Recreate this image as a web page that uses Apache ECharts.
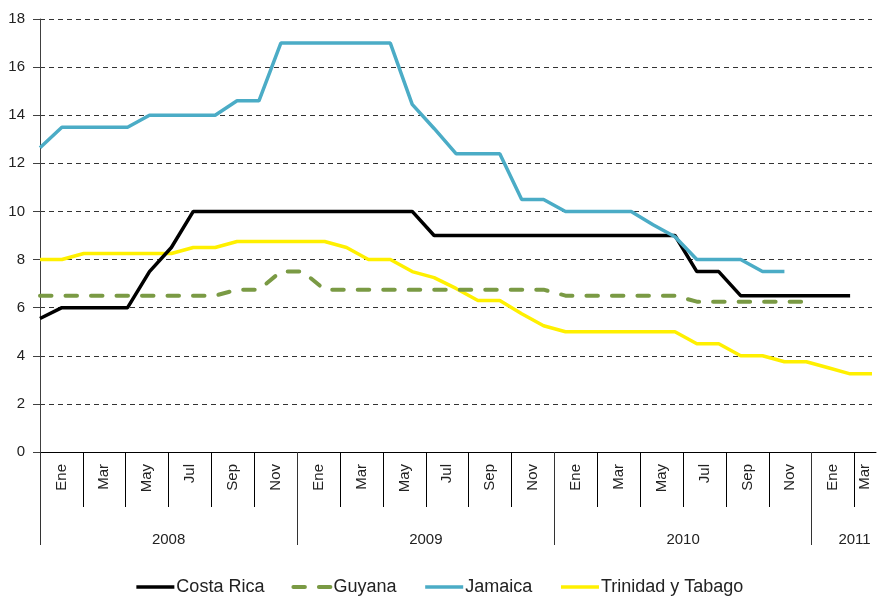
<!DOCTYPE html>
<html>
<head>
<meta charset="utf-8">
<script src="https://cdn.jsdelivr.net/npm/echarts@6/dist/echarts.min.js"></script>
<style>
html, body { margin: 0; padding: 0; background: #fff; }
#chart { width: 878px; height: 599px; }
</style>
</head>
<body>
<div id="chart"></div>
<script>
// tick labels
const monthTickLabels = ['Ene', 'Mar', 'May', 'Jul', 'Sep', 'Nov']
const yearLabels = ['2008', '2009', '2010', '2011']
const monthNames = ['Ene', 'Feb', 'Mar', 'Abr', 'May', 'Jun', 'Jul', 'Ago', 'Sep', 'Oct', 'Nov', 'Dic']

// monthly values, Ene 2008 .. Mar 2011 (39 months)
const costaRica = [5.55, 6, 6, 6, 6, 7.5, 8.5, 10, 10, 10, 10, 10, 10, 10, 10, 10, 10, 10,
    9, 9, 9, 9, 9, 9, 9, 9, 9, 9, 9, 9, 7.5, 7.5, 6.5, 6.5, 6.5, 6.5, 6.5, 6.5, null]
const guyana = [6.5, 6.5, 6.5, 6.5, 6.5, 6.5, 6.5, 6.5, 6.5, 6.75, 6.75, 7.5, 7.5,
    6.75, 6.75, 6.75, 6.75, 6.75, 6.75, 6.75, 6.75, 6.75, 6.75, 6.75,
    6.5, 6.5, 6.5, 6.5, 6.5, 6.5, 6.25, 6.25, 6.25, 6.25, 6.25, 6.25, null, null, null]
const jamaica = [12.65, 13.5, 13.5, 13.5, 13.5, 14, 14, 14, 14, 14.6, 14.6, 17, 17, 17, 17, 17, 17,
    14.45, 13.45, 12.4, 12.4, 12.4, 10.5, 10.5, 10, 10, 10, 10, 9.45, 8.95, 8, 8, 8, 7.5, 7.5,
    null, null, null, null]
const trinidad = [8, 8, 8.25, 8.25, 8.25, 8.25, 8.25, 8.5, 8.5, 8.75, 8.75, 8.75, 8.75, 8.75,
    8.5, 8, 8, 7.5, 7.25, 6.8, 6.3, 6.3, 5.75, 5.25, 5, 5, 5, 5, 5, 5,
    4.5, 4.5, 4, 4, 3.75, 3.75, 3.5, 3.25, 3.25]

// categories of the data axis
const months = []
yearLabels.forEach(y => monthNames.forEach(m => months.push(m + ' ' + y)))
months.length = costaRica.length

// label axes work on half-month slots (0..78)
const slotCount = months.length * 2 + 1
const monthSlots = new Array(slotCount).fill('')
const yearSlots = new Array(slotCount).fill('')
yearLabels.forEach((y, yi) => {
    monthTickLabels.forEach((m, mi) => {
        const idx = yi * 12 + mi * 2
        if (idx < months.length) monthSlots[Math.min(idx * 2 + 2, slotCount - 2)] = m
    })
    yearSlots[Math.min(yi * 24 + 12, slotCount - 3)] = y
})

const chart = echarts.init(document.getElementById('chart'))
const gridBox = { left: 40, top: 19, height: 433 }
chart.setOption({
    animation: false,
    textStyle: { fontFamily: 'Liberation Sans, Arial, sans-serif' },
    grid: [
        Object.assign({ right: 6 }, gridBox),
        Object.assign({ right: 2 }, gridBox),
        Object.assign({ right: 2 }, gridBox)
    ],
    legend: {
        data: ['Costa Rica', 'Guyana', 'Jamaica', 'Trinidad y Tabago'],
        left: 'center',
        top: 573,
        itemWidth: 38,
        itemHeight: 14,
        itemGap: 27,
        itemStyle: { opacity: 0 },      // 只显示线条，不显示圆点
        lineStyle: { width: 'inherit' },
        textStyle: { fontSize: 18, color: '#222', padding: [0, 0, 0, -3] }
    },
    xAxis: [
        { gridIndex: 0, type: 'category', data: months, boundaryGap: false, show: false },
        {
            gridIndex: 1, type: 'category', data: monthSlots, boundaryGap: false,
            axisLine: { onZero: false, lineStyle: { color: '#000', width: 1 } },
            axisTick: { interval: (i) => i % 4 === 0 && i > 0 && i < slotCount - 1, length: 55, lineStyle: { color: '#000' } },
            axisLabel: { interval: (i, v) => v !== '', rotate: 90, margin: 12, fontSize: 15, color: '#222' }
        },
        {
            gridIndex: 2, type: 'category', data: yearSlots, boundaryGap: false,
            axisLine: { show: false, onZero: false },
            axisTick: { interval: (i) => i % 24 === 0, length: 93, lineStyle: { color: '#333' } },
            axisLabel: { interval: (i, v) => v !== '', margin: 80, fontSize: 15, color: '#222' }
        }
    ],
    yAxis: [
        {
            gridIndex: 0, type: 'value', min: 0, max: 18, interval: 2,
            axisLine: { show: true, lineStyle: { color: '#404040' } },
            axisTick: { show: true, length: 7, lineStyle: { color: '#404040' } },
            axisLabel: { margin: 15, fontSize: 15, color: '#222' },
            splitLine: { lineStyle: { type: [5, 4], color: '#333', width: 1 } }
        },
        { gridIndex: 1, type: 'value', show: false },
        { gridIndex: 2, type: 'value', show: false }
    ],
    series: [
        {
            name: 'Costa Rica', type: 'line', data: costaRica, symbol: 'none', z: 4,
            lineStyle: { color: '#000', width: 3.5 }, itemStyle: { color: '#000' }
        },
        {
            name: 'Guyana', type: 'line', data: guyana, symbol: 'none', z: 3,
            lineStyle: { color: '#7A9A44', width: 4, type: [11.5, 14], cap: 'round' }, itemStyle: { color: '#7A9A44' }
        },
        {
            name: 'Jamaica', type: 'line', data: jamaica, symbol: 'none', z: 5,
            lineStyle: { color: '#4BACC6', width: 3.5 }, itemStyle: { color: '#4BACC6' }
        },
        {
            name: 'Trinidad y Tabago', type: 'line', data: trinidad, symbol: 'none', z: 2,
            lineStyle: { color: '#FFF000', width: 3.5 }, itemStyle: { color: '#FFF000' }
        }
    ]
})
</script>
</body>
</html>
